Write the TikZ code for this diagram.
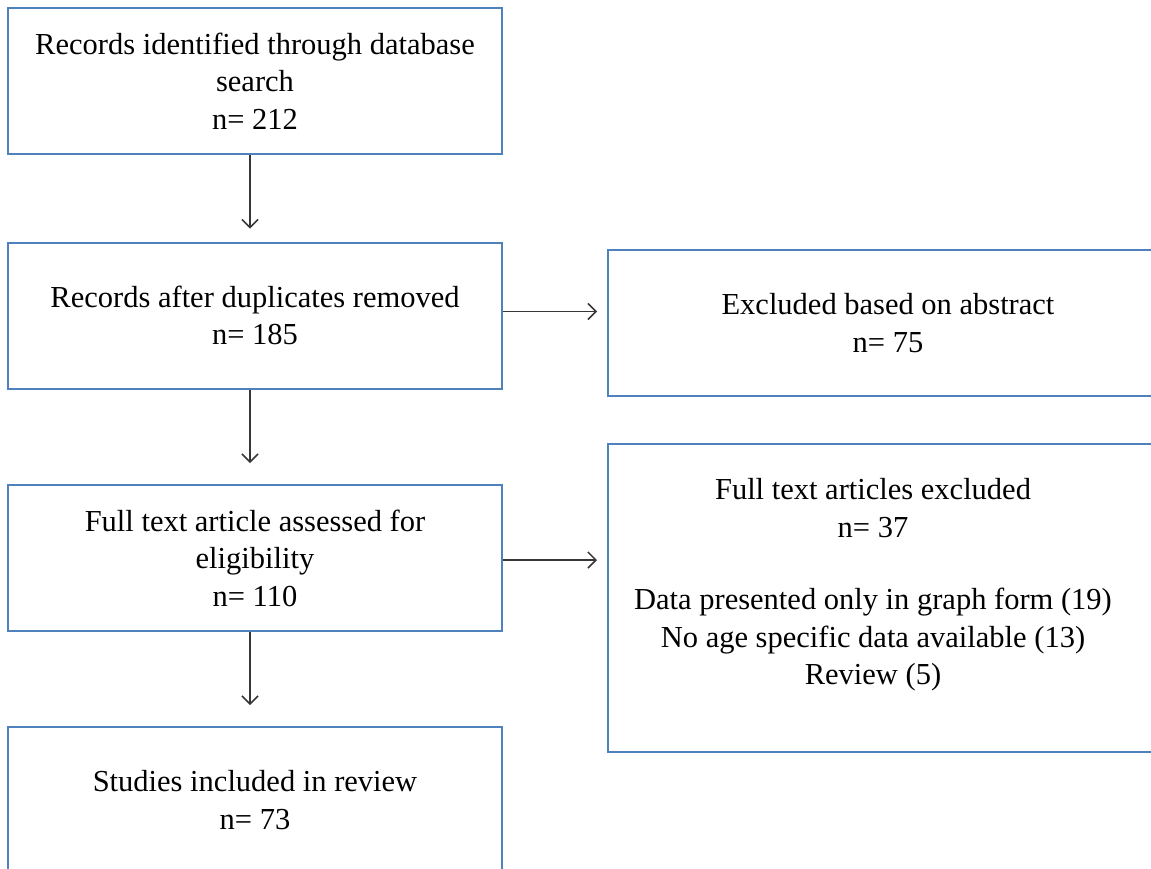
\documentclass[tikz,border=0pt]{standalone}
\usepackage{fontspec}
\setmainfont{Liberation Serif}
\usetikzlibrary{arrows.meta,
                positioning}
\definecolor{boxline}{RGB}{79,129,189}
\definecolor{arrowline}{RGB}{55,55,55}
\tikzset{block/.style=
   {rectangle,
    draw=boxline,
    line width=2pt,
    text centered,
    align=center,
    minimum width=494pt,
    minimum height=146pt,
    font=\fontsize{30.5}{37.5}\selectfont}}
\tikzset{sideblock/.style =
   {block,
    minimum width=560pt}}
\tikzset{arrow/.style = {draw=arrowline,
                         line width=1.5pt,
                         -{Straight Barb[length=8pt,width=16pt]}}}

\begin{document}
\begin{tikzpicture}[x=1pt,y=-1pt]

    \useasboundingbox (0,0) rectangle (1151,868);
    \clip (0,0) rectangle (1151,868);

    \node [block] (identified) at (255,81)
    {Records identified through database\\ search\\ n= 212};

    \node [block] (records) at (255,315.5)
    {Records after duplicates removed\\ n= 185};

    \node [block] (fulltext) at (255,558)
    {Full text article assessed for\\ eligibility\\ n= 110};

    \node [block] (included) at (255,800)
    {Studies included in review\\ n= 73};

    \node [sideblock] (abstract) at (888,323)
    {Excluded based on abstract\\ n= 75};

    \node [sideblock,
           minimum height=308pt] (excluded) at (888,598) {};
    \node [align=center,
           font=\fontsize{30.5}{37.5}\selectfont] (reasons) at (873,585)
    {Full text articles excluded\\ n= 37\\[35pt]
     Data presented only in graph form (19)\\
     No age specific data available (13)\\
     Review (5)};

    \draw [arrow, shorten >=13pt] ([xshift=-5pt]identified.south) -- ([xshift=-5pt]records.north);
    \draw [arrow, shorten >=21pt] ([xshift=-5pt]records.south) -- ([xshift=-5pt]fulltext.north);
    \draw [arrow, shorten >=21pt] ([xshift=-5pt]fulltext.south) -- ([xshift=-5pt]included.north);
    \draw [arrow, shorten >=10pt] ([yshift=4pt]records.east) -- ([yshift=4pt]records.east -| abstract.west);
    \draw [arrow, shorten >=10pt] ([yshift=-2pt]fulltext.east) -- ([yshift=-2pt]fulltext.east -| excluded.west);

\end{tikzpicture}
\end{document}
